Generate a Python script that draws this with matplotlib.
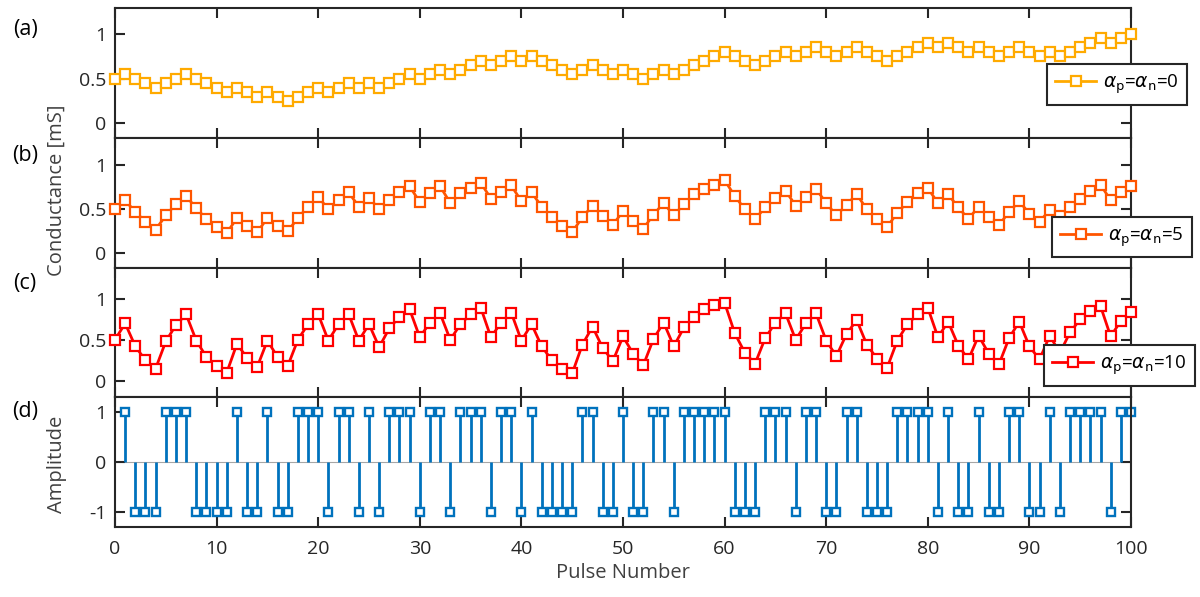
import numpy as np
import matplotlib
matplotlib.use('Agg')
import matplotlib.pyplot as plt

# pulse index 0..100
pulse = np.arange(0, 101)

g_a0 = [0.50, 0.55, 0.50, 0.45, 0.40, 0.45, 0.50, 0.55, 0.50, 0.45,
        0.40, 0.35, 0.40, 0.35, 0.30, 0.35, 0.30, 0.25, 0.30, 0.35,
        0.40, 0.35, 0.40, 0.45, 0.40, 0.45, 0.40, 0.45, 0.50, 0.55,
        0.50, 0.55, 0.60, 0.55, 0.60, 0.65, 0.70, 0.65, 0.70, 0.75,
        0.70, 0.75, 0.70, 0.65, 0.60, 0.55, 0.60, 0.65, 0.60, 0.55,
        0.60, 0.55, 0.50, 0.55, 0.60, 0.55, 0.60, 0.65, 0.70, 0.75,
        0.80, 0.75, 0.70, 0.65, 0.70, 0.75, 0.80, 0.75, 0.80, 0.85,
        0.80, 0.75, 0.80, 0.85, 0.80, 0.75, 0.70, 0.75, 0.80, 0.85,
        0.90, 0.85, 0.90, 0.85, 0.80, 0.85, 0.80, 0.75, 0.80, 0.85,
        0.80, 0.75, 0.80, 0.75, 0.80, 0.85, 0.90, 0.95, 0.90, 0.95,
        1.00]

g_a5 = [0.50, 0.60, 0.47, 0.36, 0.27, 0.43, 0.56, 0.65, 0.51, 0.39,
        0.30, 0.23, 0.40, 0.31, 0.24, 0.40, 0.31, 0.25, 0.40, 0.53,
        0.64, 0.50, 0.60, 0.69, 0.53, 0.63, 0.50, 0.60, 0.70, 0.76,
        0.58, 0.68, 0.76, 0.57, 0.68, 0.74, 0.80, 0.62, 0.70, 0.77,
        0.59, 0.69, 0.53, 0.41, 0.31, 0.24, 0.41, 0.54, 0.42, 0.32,
        0.48, 0.37, 0.28, 0.44, 0.57, 0.43, 0.56, 0.67, 0.73, 0.78,
        0.83, 0.65, 0.50, 0.39, 0.52, 0.63, 0.71, 0.54, 0.64, 0.73,
        0.57, 0.43, 0.55, 0.67, 0.50, 0.39, 0.30, 0.46, 0.58, 0.68,
        0.74, 0.57, 0.67, 0.52, 0.39, 0.53, 0.41, 0.32, 0.47, 0.59,
        0.45, 0.36, 0.49, 0.42, 0.52, 0.62, 0.71, 0.78, 0.60, 0.70,
        0.76]

g_a10 = [0.50, 0.70, 0.42, 0.25, 0.15, 0.48, 0.68, 0.81, 0.49, 0.29,
         0.18, 0.10, 0.45, 0.28, 0.17, 0.49, 0.29, 0.18, 0.50, 0.69,
         0.81, 0.49, 0.69, 0.81, 0.49, 0.69, 0.41, 0.64, 0.78, 0.87,
         0.53, 0.71, 0.82, 0.50, 0.69, 0.81, 0.89, 0.53, 0.71, 0.83,
         0.49, 0.69, 0.42, 0.25, 0.15, 0.09, 0.44, 0.66, 0.40, 0.24,
         0.54, 0.33, 0.19, 0.51, 0.71, 0.42, 0.65, 0.78, 0.87, 0.92,
         0.95, 0.58, 0.34, 0.21, 0.52, 0.71, 0.82, 0.50, 0.70, 0.82,
         0.49, 0.30, 0.57, 0.74, 0.44, 0.27, 0.16, 0.49, 0.69, 0.81,
         0.89, 0.53, 0.72, 0.43, 0.26, 0.55, 0.33, 0.20, 0.52, 0.72,
         0.42, 0.26, 0.55, 0.34, 0.59, 0.75, 0.85, 0.91, 0.54, 0.73,
         0.84]

# pulse amplitudes for pulses 1..100
pulse_idx = np.arange(1, 101)
amp = [1, -1, -1, -1, 1, 1, 1, -1, -1, -1,
       -1, 1, -1, -1, 1, -1, -1, 1, 1, 1,
       -1, 1, 1, -1, 1, -1, 1, 1, 1, -1,
       1, 1, -1, 1, 1, 1, -1, 1, 1, -1,
       1, -1, -1, -1, -1, 1, 1, -1, -1, 1,
       -1, -1, 1, 1, -1, 1, 1, 1, 1, 1,
       -1, -1, -1, 1, 1, 1, -1, 1, 1, -1,
       -1, 1, 1, -1, -1, -1, 1, 1, 1, 1,
       -1, 1, -1, -1, 1, -1, -1, 1, 1, -1,
       -1, 1, -1, 1, 1, 1, 1, -1, 1, 1]

series = [(g_a0, '#FFAA00', r'$\alpha_{\rm p}$=$\alpha_{\rm n}$=0', (-0.16, 1.29), 0.917, 0.256),
          (g_a5, '#FF5500', r'$\alpha_{\rm p}$=$\alpha_{\rm n}$=5', (-0.16, 1.31), 0.922, 0.078),
          (g_a10, '#FF0000', r'$\alpha_{\rm p}$=$\alpha_{\rm n}$=10', (-0.20, 1.38), 0.914, 0.09)]
panel_tags = ['(a)', '(b)', '(c)', '(d)']
blue = '#0072BD'
dark = '#262626'

plt.rcParams.update({'font.family': ['Open Sans', 'DejaVu Sans'], 'font.size': 14,
                     'axes.linewidth': 1.5, 'axes.edgecolor': dark,
                     'axes.unicode_minus': False,
                     'xtick.color': dark, 'ytick.color': dark})

fig, axes = plt.subplots(4, 1, figsize=(12, 5.97), dpi=100, sharex=True)
fig.subplots_adjust(left=115 / 1200, right=1131 / 1200, top=1 - 8 / 597,
                    bottom=1 - 527 / 597, hspace=0)

for ax, (g, col, lab, ylim, lx, ly) in zip(axes[:3], series):
    ax.plot(pulse, g, '-s', color=col, lw=2, ms=6.5, mew=1.6, mfc='white',
            mec=col, label=lab, clip_on=False, zorder=3)
    ax.set_ylim(*ylim)
    ax.set_yticks([0, 0.5, 1])
    ax.set_yticklabels(['0', '0.5', '1'])
    leg = ax.legend(loc='lower left', bbox_to_anchor=(lx, ly), borderaxespad=0,
                    numpoints=1, handlelength=2.2, fontsize=13.5, fancybox=False,
                    framealpha=1, edgecolor=dark, borderpad=0.45, handletextpad=0.35)
    leg.get_frame().set_linewidth(1.5)

axd = axes[3]
axd.axhline(0, color='#a6a6a6', lw=0.8, zorder=1)
mk, st, bl = axd.stem(pulse_idx, amp, linefmt='-', basefmt='none')
st.set_color(blue)
st.set_linewidth(2)
mk.set_marker('s')
mk.set_markersize(6)
mk.set_markerfacecolor('white')
mk.set_markeredgecolor(blue)
mk.set_markeredgewidth(1.7)
mk.set_clip_on(False)
axd.set_ylim(-1.3, 1.3)
axd.set_yticks([-1, 0, 1])

for ax in axes:
    ax.set_xlim(0, 100)
    ax.set_xticks(np.arange(0, 101, 10))
    ax.tick_params(direction='in', length=7, width=1.5, top=True, right=True,
                   labelsize=14, pad=6)
axd.tick_params(axis='x', pad=9)
axd.set_xlabel('Pulse Number', fontsize=14.5, color='#404040', labelpad=4)

tag_y = [29, 155, 283, 412]
for t, y in zip(panel_tags, tag_y):
    fig.text(25 / 1200, 1 - y / 597, t, fontsize=15.5, ha='center', va='center')
fig.text(57 / 1200, 1 - 190 / 597, 'Conductance [mS]', rotation=90, fontsize=14.5,
         ha='center', va='center', color='#404040')
fig.text(57 / 1200, 1 - 464 / 597, 'Amplitude', rotation=90, fontsize=14.5,
         ha='center', va='center', color='#404040')

fig.savefig('out.png', dpi=100)
